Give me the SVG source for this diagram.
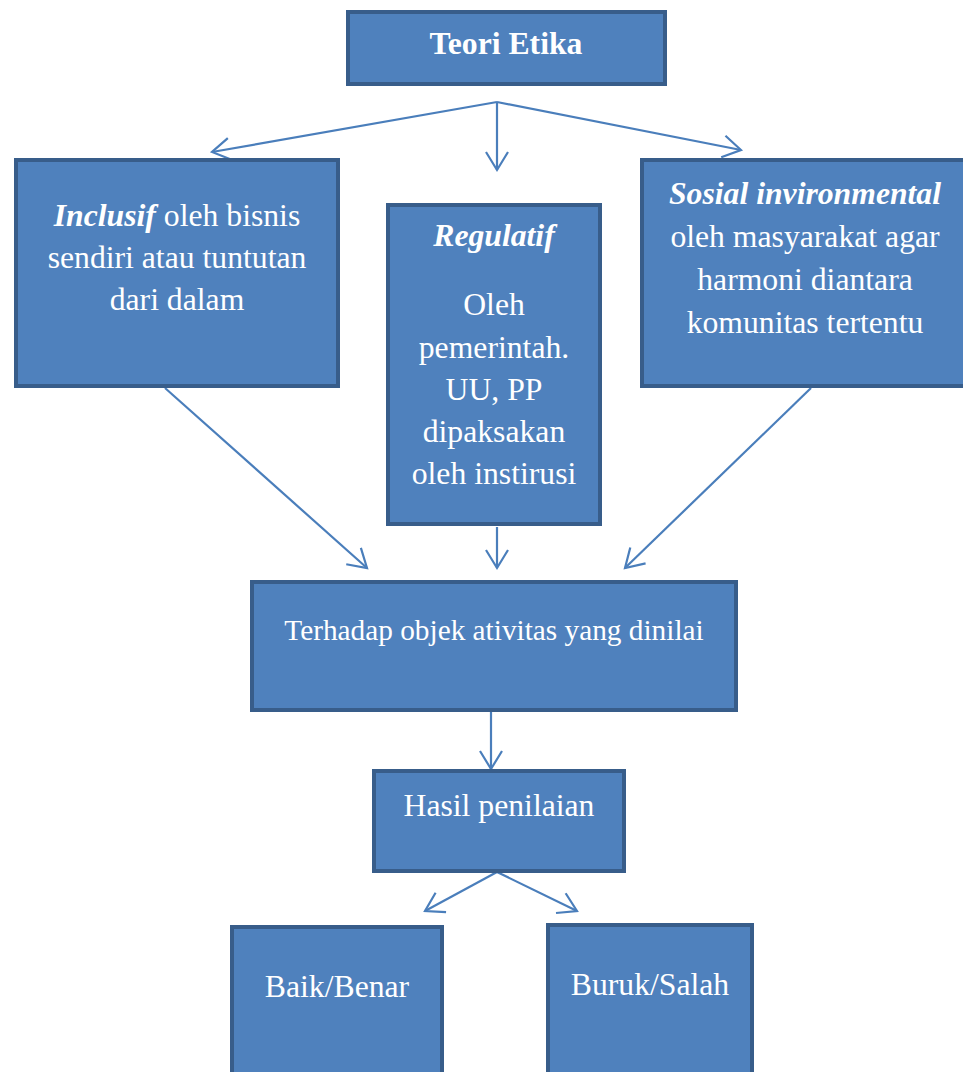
<svg xmlns="http://www.w3.org/2000/svg" width="963" height="1072" viewBox="0 0 963 1072">
<defs>
<style>
.box{fill:#4F81BD;stroke:#385D8A;stroke-width:4;}
.t{font-family:"Liberation Serif","Times New Roman",serif;font-size:31.7px;fill:#FFFFFF;text-anchor:middle;}
.s{font-size:29.3px;}
.b{font-weight:bold;}
.bi{font-weight:bold;font-style:italic;}
.con{stroke:#4A7EBB;stroke-width:2.2;fill:none;marker-end:url(#arr);}
</style>
<marker id="arr" markerUnits="userSpaceOnUse" markerWidth="26" markerHeight="26" viewBox="0 0 26 26" refX="22" refY="13" orient="auto">
<path d="M4,2 L22,13 L4,24" fill="none" stroke="#4A7EBB" stroke-width="2.2"/>
</marker>
</defs>
<rect width="963" height="1072" fill="#FFFFFF"/>
<g id="connectors">
<line class="con" x1="497" y1="102" x2="212" y2="152"/>
<line class="con" x1="497" y1="102" x2="497" y2="170"/>
<line class="con" x1="497" y1="102" x2="741" y2="150"/>
<line class="con" x1="165" y1="388" x2="367" y2="568"/>
<line class="con" x1="497" y1="527" x2="497" y2="568"/>
<line class="con" x1="811" y1="388" x2="625" y2="568"/>
<line class="con" x1="491" y1="712" x2="491" y2="769"/>
<line class="con" x1="497" y1="872" x2="425" y2="911"/>
<line class="con" x1="497" y1="872" x2="577" y2="911"/>
</g>
<g id="teori">
<rect class="box" x="348" y="12" width="317" height="72"/>
<text class="t b" x="506" y="54">Teori Etika</text>
</g>
<g id="inclusif">
<rect class="box" x="16" y="160" width="322" height="226"/>
<text class="t" x="177" y="226"><tspan class="bi">Inclusif</tspan> oleh bisnis</text>
<text class="t" x="177" y="268">sendiri atau tuntutan</text>
<text class="t" x="177" y="310">dari dalam</text>
</g>
<g id="regulatif">
<rect class="box" x="388" y="205" width="212" height="319"/>
<text class="t bi" x="494" y="246">Regulatif</text>
<text class="t" x="494" y="315">Oleh</text>
<text class="t" x="494" y="358">pemerintah.</text>
<text class="t" x="494" y="400">UU, PP</text>
<text class="t" x="494" y="442">dipaksakan</text>
<text class="t" x="494" y="484">oleh instirusi</text>
</g>
<g id="sosial">
<rect class="box" x="642" y="160" width="330" height="226"/>
<text class="t bi" x="805" y="204">Sosial invironmental</text>
<text class="t" x="805" y="247">oleh masyarakat agar</text>
<text class="t" x="805" y="290">harmoni diantara</text>
<text class="t" x="805" y="333">komunitas tertentu</text>
</g>
<g id="terhadap">
<rect class="box" x="252" y="582" width="484" height="128"/>
<text class="t s" x="494" y="640">Terhadap objek ativitas yang dinilai</text>
</g>
<g id="hasil">
<rect class="box" x="374" y="771" width="250" height="100"/>
<text class="t" x="499" y="816">Hasil penilaian</text>
</g>
<g id="baik">
<rect class="box" x="232" y="927" width="210" height="160"/>
<text class="t" x="337" y="997">Baik/Benar</text>
</g>
<g id="buruk">
<rect class="box" x="548" y="925" width="204" height="160"/>
<text class="t" x="650" y="995">Buruk/Salah</text>
</g>
</svg>
